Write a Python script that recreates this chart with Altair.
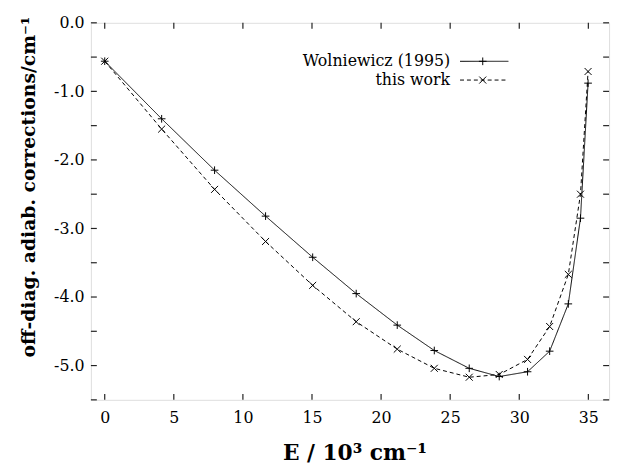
import altair as alt
import pandas as pd

# ---- data ----
E = [0, 4.12, 7.95, 11.64, 15.05, 18.2, 21.17, 23.85, 26.38, 28.55, 30.6, 32.2, 33.55, 34.43, 34.98]
wolniewicz = [-0.56, -1.40, -2.15, -2.82, -3.42, -3.95, -4.41, -4.78, -5.04, -5.16, -5.09, -4.79, -4.10, -2.85, -0.88]
this_work = [-0.56, -1.55, -2.43, -3.19, -3.83, -4.36, -4.76, -5.04, -5.17, -5.13, -4.91, -4.43, -3.67, -2.50, -0.71]
series_names = ["Wolniewicz (1995)", "this work"]
x_ticks = [0, 5, 10, 15, 20, 25, 30, 35]
y_ticks = [0.0, -0.5, -1.0, -1.5, -2.0, -2.5, -3.0, -3.5, -4.0, -4.5, -5.0, -5.5]
y_labels = [0.0, -1.0, -2.0, -3.0, -4.0, -5.0]

W, H = 525, 382
FONT = "DejaVu Serif"
PLUS = "M-1,0L1,0M0,-1L0,1"
CROSS = "M-1,-1L1,1M-1,1L1,-1"
styles = [
    dict(dash=[1, 0], shape=PLUS, size=60),
    dict(dash=[4, 3], shape=CROSS, size=50),
]

df = pd.DataFrame({
    "E": E * 2,
    "val": wolniewicz + this_work,
    "series": [series_names[0]] * len(E) + [series_names[1]] * len(E),
})

xs = alt.Scale(domain=[-1, 36.5], nice=False, zero=False)
ys = alt.Scale(domain=[-5.5, 0], nice=False, zero=False)
xaxis = alt.Axis(values=x_ticks, ticks=False, domain=False, grid=False,
                 labelFont=FONT, labelFontSize=16, labelColor="#000", labelPadding=10,
                 title="E / 10³ cm⁻¹", titleFont=FONT, titleFontSize=22,
                 titleFontWeight="bold", titleColor="#000", titlePadding=17, titleX=267)
yaxis = alt.Axis(values=y_labels, ticks=False, domain=False, grid=False,
                 labelExpr="replace(format(datum.value, '.1f'), '\u2212', '-')",
                 labelFont=FONT, labelFontSize=16, labelColor="#000", labelPadding=7,
                 title="off-diag. adiab. corrections/cm⁻¹", titleFont=FONT,
                 titleFontSize=19, titleFontWeight="bold", titleColor="#000",
                 titlePadding=15, titleY=166)
xenc = alt.X("E:Q", scale=xs, axis=xaxis)
yenc = alt.Y("val:Q", scale=ys, axis=yaxis)

layers = []
for i, name in enumerate(series_names):
    st = styles[i]
    sub = alt.Chart(df).transform_filter(alt.datum.series == name)
    layers.append(sub.mark_line(color="#000", strokeWidth=1, strokeDash=st["dash"]).encode(x=xenc, y=yenc))
    layers.append(sub.mark_point(shape=st["shape"], size=st["size"], filled=False,
                                 color="#000", strokeWidth=1, opacity=1).encode(x=xenc, y=yenc))

# inward ticks on all four sides
xt = pd.DataFrame({"E": x_ticks})
yt = pd.DataFrame({"val": y_ticks})
tk = dict(color="#222", strokeWidth=1.2)
layers.append(alt.Chart(xt).mark_rule(**tk).encode(x=xenc, y=alt.value(H), y2=alt.value(H - 6)))
layers.append(alt.Chart(xt).mark_rule(**tk).encode(x=xenc, y=alt.value(0), y2=alt.value(6)))
layers.append(alt.Chart(yt).mark_rule(**tk).encode(y=yenc, x=alt.value(0), x2=alt.value(6)))
layers.append(alt.Chart(yt).mark_rule(**tk).encode(y=yenc, x=alt.value(W), x2=alt.value(W - 6)))

# legend (text left of line sample)
for i, name in enumerate(series_names):
    st = styles[i]
    ly = 39 + 19 * i
    ldf = pd.DataFrame({"label": [name]})
    layers.append(alt.Chart(ldf).mark_text(align="right", baseline="middle", font=FONT,
                                           fontSize=16, color="#000").encode(
        text="label:N", x=alt.value(364), y=alt.value(ly)))
    layers.append(alt.Chart(ldf).mark_rule(color="#000", strokeWidth=1, strokeDash=st["dash"]).encode(
        x=alt.value(374), x2=alt.value(423), y=alt.value(ly)))
    layers.append(alt.Chart(ldf).mark_point(shape=st["shape"], size=st["size"], filled=False,
                                            color="#000", strokeWidth=1, opacity=1).encode(
        x=alt.value(397), y=alt.value(ly)))

chart = alt.layer(*layers).properties(
    width=W, height=H,
    autosize=alt.AutoSizeParams(type="none"),
    padding={"left": 84, "top": 12, "right": 6, "bottom": 63},
).configure_view(stroke="#222", strokeWidth=1.5).configure(background="white")

chart.save("out.html", embed_options={"renderer": "svg", "actions": False})
